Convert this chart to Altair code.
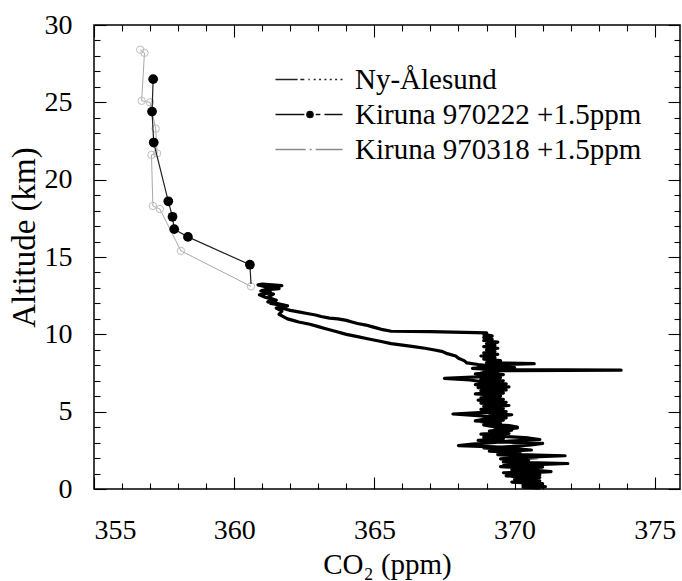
import altair as alt
import pandas as pd

FONT = "Liberation Serif"
LABEL_FONT = "Times New Roman, Liberation Serif, serif"

series_names = ["Ny-Ålesund", "Kiruna 970222 +1.5ppm", "Kiruna 970318 +1.5ppm"]

# Ny-Ålesund in-situ profile in four pieces
# 1) ascent from the ground to 10.2 km
asc_alt = [0.05, 0.15, 0.25, 0.35, 0.45, 0.55, 0.65, 0.75, 0.85, 0.95,
           1.05, 1.15, 1.25, 1.35, 1.45, 1.55, 1.65, 1.75, 1.85, 1.95,
           2.05, 2.15, 2.25, 2.35, 2.45, 2.55, 2.65, 2.75, 2.85, 2.95,
           3.05, 3.15, 3.25, 3.35, 3.45, 3.55, 3.65, 3.75, 3.85, 3.95,
           4.05, 4.15, 4.25, 4.35, 4.45, 4.55, 4.65, 4.75, 4.85, 4.95,
           5.05, 5.15, 5.25, 5.35, 5.45, 5.55, 5.65, 5.75, 5.85, 5.95,
           6.05, 6.15, 6.25, 6.35, 6.45, 6.55, 6.65, 6.75, 6.85, 6.95,
           7.05, 7.15, 7.25, 7.35, 7.45, 7.55, 7.65, 7.68, 7.72, 7.80,
           7.90, 8.00, 8.10, 8.18, 8.30, 8.40, 8.50, 8.60, 8.70, 8.80,
           8.90, 9.00, 9.10, 9.20, 9.30, 9.40, 9.50, 9.60, 9.70, 9.80,
           9.90, 10.00, 10.10, 10.18, 10.20]
asc_co2 = [370.6, 371.1, 370.3, 371.0, 369.9, 370.8, 370.1, 370.9, 369.7, 370.5,
           369.6, 370.9, 369.9, 370.6, 369.5, 370.3, 371.9, 369.6, 370.4, 369.5,
           370.2, 371.8, 369.4, 370.1, 369.1, 369.8, 368.9, 369.9, 370.6, 371.0,
           369.4, 368.7, 369.6, 368.9, 369.5, 368.8, 369.7, 369.1, 369.6, 370.1,
           369.2, 368.9, 369.5, 368.8, 369.6, 368.9, 369.4, 368.7, 367.8, 368.9,
           369.5, 368.8, 369.4, 368.9, 369.6, 368.8, 369.3, 368.7, 369.4, 368.9,
           369.5, 368.6, 369.3, 368.8, 369.5, 368.7, 369.2, 368.6, 369.3, 368.8,
           368.4, 367.5, 368.7, 369.2, 368.6, 369.4, 368.9, 373.8, 369.3, 368.5,
           369.3, 368.7, 370.7, 369.0, 369.5, 368.9, 369.3, 368.8, 369.4, 368.9,
           369.3, 369.0, 369.4, 368.9, 369.3, 369.0, 369.4, 368.9, 369.2, 368.9,
           369.2, 368.9, 369.0, 367.0, 365.6]
# 2) upper branch from 10.2 km up to 13.2 km
top_alt = [10.30, 10.40, 10.50, 10.60, 10.70, 10.80, 10.90, 11.00, 11.05, 11.15,
           11.25, 11.35, 11.45, 11.55, 11.70, 11.85, 12.00, 12.10, 12.25, 12.40,
           12.55, 12.70, 12.85, 12.95, 13.05, 13.15, 13.25, 13.20]
top_co2 = [365.3, 365.1, 364.9, 364.7, 364.4, 364.2, 364.0, 363.7, 363.4, 363.1,
           362.9, 362.6, 362.3, 362.0, 361.7, 361.9, 361.5, 361.2, 361.4, 361.1,
           360.9, 361.3, 361.0, 361.6, 361.2, 361.7, 361.0, 360.85]
# 3) lower branch back down to 8 km
low_alt = [13.00, 12.80, 12.60, 12.40, 12.20, 12.00, 11.85, 11.70, 11.50, 11.30,
           11.10, 11.00, 10.90, 10.80, 10.65, 10.50, 10.35, 10.20, 10.00, 9.85,
           9.70, 9.55, 9.40, 9.30, 9.20, 9.10, 9.00, 8.90, 8.75, 8.60,
           8.45, 8.30, 8.15, 8.05]
low_co2 = [361.3, 360.95, 361.4, 361.2, 361.5, 361.3, 361.8, 361.5, 361.7, 361.6,
           361.8, 361.9, 362.1, 362.3, 362.7, 363.0, 363.3, 363.6, 364.0, 364.4,
           364.8, 365.2, 365.6, 366.0, 366.4, 366.8, 367.1, 367.4, 367.6, 367.9,
           368.0, 368.2, 368.3, 368.7]
# 4) descent from 8 km to the ground
dsc_alt = [7.95, 7.85, 7.75, 7.62, 7.50, 7.40, 7.30, 7.20, 7.10, 7.00,
           6.90, 6.80, 6.70, 6.60, 6.50, 6.40, 6.30, 6.20, 6.10, 6.00,
           5.90, 5.80, 5.70, 5.60, 5.50, 5.40, 5.30, 5.20, 5.10, 5.00,
           4.90, 4.80, 4.70, 4.60, 4.50, 4.40, 4.30, 4.20, 4.10, 4.00,
           3.90, 3.80, 3.70, 3.60, 3.50, 3.40, 3.30, 3.20, 3.10, 3.00,
           2.90, 2.80, 2.72, 2.62, 2.52, 2.42, 2.32, 2.22, 2.12, 2.02,
           1.92, 1.82, 1.72, 1.62, 1.52, 1.42, 1.32, 1.22, 1.12, 1.02,
           0.92, 0.82, 0.72, 0.62, 0.52, 0.42, 0.32, 0.22, 0.12, 0.05]
dsc_co2 = [369.2, 370.0, 369.0, 369.4, 368.8, 369.6, 368.9, 369.5, 368.8, 369.6,
           369.0, 369.7, 369.1, 369.8, 369.0, 369.7, 369.1, 369.6, 368.9, 369.5,
           368.8, 369.6, 369.0, 369.7, 369.1, 369.8, 369.0, 369.6, 368.9, 369.7,
           369.1, 369.9, 369.2, 369.7, 368.9, 368.6, 369.4, 369.0, 369.8, 370.1,
           369.3, 369.9, 369.2, 369.8, 369.0, 369.6, 370.5, 370.9, 369.8, 369.2,
           368.5, 368.0, 369.3, 370.0, 370.6, 369.5, 370.2, 369.4, 370.3, 370.8,
           369.7, 370.5, 369.8, 370.7, 369.6, 371.0, 369.9, 370.6, 371.3, 370.2,
           370.9, 369.9, 370.7, 370.0, 370.9, 370.1, 370.8, 371.0, 370.3, 370.9]

# Kiruna 970222 balloon samples (+1.5 ppm); first value is the line start only
k22_alt = [13.25, 14.5, 16.3, 16.8, 17.6, 18.6, 22.4, 24.4, 26.5]
k22_co2 = [360.6, 360.56, 358.35, 357.86, 357.80, 357.65, 357.13, 357.07, 357.11]

# Kiruna 970318 balloon samples (+1.5 ppm)
k18_alt = [13.1, 15.4, 18.1, 18.3, 21.6, 21.7, 23.3, 25.0, 25.1, 28.2, 28.4]
k18_co2 = [360.6, 358.1, 357.35, 357.1, 357.05, 357.25, 357.2, 357.0, 356.7, 356.8, 356.65]

x_labels = [355, 360, 365, 370, 375]
y_labels = [0, 5, 10, 15, 20, 25, 30]
x_ticks = list(range(355, 376))
y_ticks = list(range(0, 31))

W, H = 586, 464

ny_alt = asc_alt + top_alt + low_alt + dsc_alt
ny_co2 = asc_co2 + top_co2 + low_co2 + dsc_co2
ny_df = pd.DataFrame({"co2": ny_co2, "alt": ny_alt, "i": range(len(ny_co2))})
k22_df = pd.DataFrame({"co2": k22_co2, "alt": k22_alt, "i": range(len(k22_co2))})
k18_df = pd.DataFrame({"co2": k18_co2, "alt": k18_alt, "i": range(len(k18_co2))})
leg_df = pd.DataFrame({"series": series_names})

xscale = alt.Scale(domain=[355, 375.9], nice=False, zero=False)
yscale = alt.Scale(domain=[0, 30], nice=False, zero=False)

tick_size = {"condition": {"test": "datum.value % 5 === 0", "value": 12}, "value": 6}
tick_common = dict(labels=False, domain=False, grid=False, title=None, ticks=True,
                   tickColor="black", tickWidth=1.1, tickSize=tick_size)

x_label_axis = alt.Axis(orient="bottom", values=x_labels, labelFont=LABEL_FONT, labelFontSize=28,
                        labelColor="black", labelPadding=27, ticks=False, tickSize=0,
                        domain=False, grid=False, title="CO₂ (ppm)", titleFont=FONT,
                        titleFontSize=29, titleFontWeight="normal", titleColor="black",
                        titleY=84, titleBaseline="alphabetic")
y_label_axis = alt.Axis(orient="left", values=y_labels, labelFont=LABEL_FONT, labelFontSize=28,
                        labelColor="black", labelPadding=22, ticks=False, tickSize=0,
                        domain=False, grid=False, title="Altitude (km)", titleFont=FONT,
                        titleFontSize=33, titleFontWeight="normal", titleColor="black",
                        titleX=-70, titleY=212, titleBaseline="middle", titleAngle=-90)

ny_layer = alt.Chart(ny_df).mark_line(color="black", strokeWidth=3.2, strokeJoin="round").encode(
    x=alt.X("co2:Q", scale=xscale, axis=x_label_axis),
    y=alt.Y("alt:Q", scale=yscale, axis=y_label_axis),
    order="i:Q",
)

k22_line = alt.Chart(k22_df).mark_line(color="#222222", strokeWidth=1.2).encode(
    x=alt.X("co2:Q", scale=xscale,
            axis=alt.Axis(orient="top", offset=-H, values=x_ticks, **tick_common)),
    y=alt.Y("alt:Q", scale=yscale,
            axis=alt.Axis(orient="right", offset=-W, values=y_ticks, **tick_common)),
    order="i:Q",
)

k22_pts = alt.Chart(k22_df).transform_filter("datum.i > 0").mark_point(
    filled=True, color="black", size=95, opacity=1, shape="circle").encode(
    x=alt.X("co2:Q", scale=xscale,
            axis=alt.Axis(orient="bottom", offset=-H, values=x_ticks, **tick_common)),
    y=alt.Y("alt:Q", scale=yscale,
            axis=alt.Axis(orient="left", offset=-W, values=y_ticks, **tick_common)),
)

k18_line = alt.Chart(k18_df).mark_line(color="#a8a8a8", strokeWidth=1).encode(
    x=alt.X("co2:Q", scale=xscale, axis=None),
    y=alt.Y("alt:Q", scale=yscale, axis=None),
    order="i:Q",
)

k18_pts = alt.Chart(k18_df).mark_point(filled=False, color="#bdbdbd", size=55,
                                        strokeWidth=1, opacity=1, shape="circle").encode(
    x=alt.X("co2:Q", scale=xscale, axis=None),
    y=alt.Y("alt:Q", scale=yscale, axis=None),
)


# legend symbols: custom paths (line pattern + optional dot)
def sym_path(segs, dot=None):
    half = 8.0          # sqrt(symbolSize)/2 pixels per unit
    span = 67.0 / half  # symbol length in units

    def u(f):
        return -1 + f * span

    p = "".join(f"M{u(a):.3f},0H{u(b):.3f}" for a, b in segs)
    if dot is not None:
        r = 3.2 / half
        c = u(dot)
        p += f"M{c - r:.3f},0A{r:.3f},{r:.3f} 0 1,0 {c + r:.3f},0A{r:.3f},{r:.3f} 0 1,0 {c - r:.3f},0Z"
    return p


ny_sym = sym_path([(0, 0.33), (0.37, 0.43), (0.49, 0.51), (0.57, 0.6), (0.65, 0.68),
                   (0.73, 0.76), (0.81, 0.84), (0.89, 0.92), (0.97, 1.0)])
k22_sym = sym_path([(0, 0.43), (0.6, 0.67), (0.73, 1.0)], dot=0.515)
k18_sym = sym_path([(0, 0.45), (0.51, 0.54), (0.6, 1.0)])

leg = alt.Legend(title=None, orient="none", legendX=175, legendY=40, labelFont=LABEL_FONT,
                 labelFontSize=29, labelColor="black", symbolSize=256, symbolStrokeWidth=1.3,
                 symbolOpacity=1, labelOffset=57, rowPadding=5, padding=0, labelLimit=0)

legend_layer = alt.Chart(leg_df).mark_point(filled=True, opacity=0).encode(
    shape=alt.Shape("series:N", scale=alt.Scale(domain=series_names,
                                                range=[ny_sym, k22_sym, k18_sym]), legend=leg),
    fill=alt.Fill("series:N", scale=alt.Scale(domain=series_names,
                                              range=["transparent", "black", "transparent"]),
                  legend=leg),
    stroke=alt.Stroke("series:N", scale=alt.Scale(domain=series_names,
                                                  range=["#222222", "#111111", "#8a8a8a"]),
                      legend=leg),
)

chart = alt.layer(
    k18_line, k18_pts, ny_layer, k22_line, k22_pts, legend_layer
).resolve_axis(
    x="independent", y="independent"
).properties(
    width=W, height=H,
    autosize=alt.AutoSizeParams(type="none"),
    padding={"left": 94, "top": 25, "right": 2, "bottom": 92},
    background="white",
).configure(
    font=FONT,
    style={"guide-label": {"font": LABEL_FONT}},
).configure_axis(
    labelFont=LABEL_FONT, titleFont=FONT
).configure_legend(
    labelFont=LABEL_FONT
).configure_view(stroke="black", strokeWidth=1.5)

chart.save("out.html", embed_options={"renderer": "svg", "actions": False})
